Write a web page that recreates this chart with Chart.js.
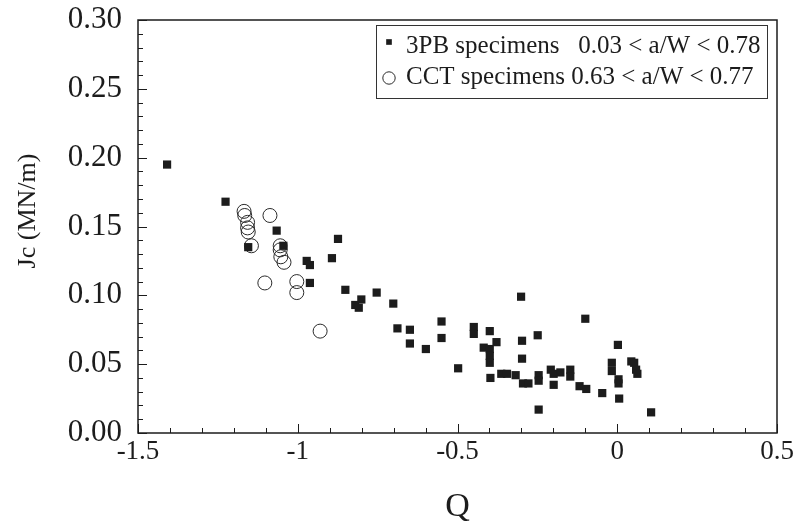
<!DOCTYPE html>
<html lang="en">
  <head>
    <meta charset="UTF-8" />
    <title>Jc vs Q</title>
    <script src="https://cdn.jsdelivr.net/npm/chart.js"></script>
    <style>
      html, body { margin: 0; padding: 0; background: #fff; }
      canvas { display: block; }
    </style>
  </head>
  <body>
    <canvas id="chart" width="806" height="529"></canvas>
    <script>
      // 3PB specimens (filled squares)
      const q3PB = [
        -1.409, -1.226, -1.155, -1.066, -1.045, -0.972, -0.962, -0.962, -0.893, -0.874,
        -0.851, -0.820, -0.809, -0.801, -0.753, -0.701, -0.688, -0.649, -0.649, -0.599,
        -0.550, -0.550, -0.498, -0.449, -0.449, -0.418, -0.399, -0.399, -0.399, -0.399,
        -0.397, -0.378, -0.363, -0.345, -0.318, -0.301, -0.298, -0.298, -0.295, -0.278,
        -0.249, -0.246, -0.246, -0.246, -0.208, -0.199, -0.199, -0.178, -0.147, -0.147,
        -0.118, -0.097, -0.100, -0.047, 0.002, -0.017, -0.017, 0.004, 0.004, 0.006,
        0.044, 0.053, 0.059, 0.063, 0.106
      ];
      const jc3PB = [
        0.195, 0.168, 0.135, 0.147, 0.136, 0.125, 0.122, 0.109, 0.127, 0.141,
        0.104, 0.093, 0.091, 0.097, 0.102, 0.094, 0.076, 0.075, 0.065, 0.061,
        0.081, 0.069, 0.047, 0.077, 0.072, 0.062, 0.074, 0.061, 0.056, 0.051,
        0.040, 0.066, 0.043, 0.043, 0.042, 0.099, 0.067, 0.054, 0.036, 0.036,
        0.071, 0.042, 0.038, 0.017, 0.046, 0.043, 0.035, 0.044, 0.046, 0.041,
        0.034, 0.032, 0.083, 0.029, 0.064, 0.051, 0.045, 0.039, 0.036, 0.025,
        0.052, 0.051, 0.046, 0.043, 0.015
      ];

      // CCT specimens (open circles)
      const qCCT = [
        -1.168, -1.166, -1.157, -1.157, -1.155, -1.145, -1.087, -1.055, -1.055, -1.053,
        -1.043, -1.103, -1.003, -1.003, -0.930
      ];
      const jcCCT = [
        0.161, 0.158, 0.153, 0.149, 0.146, 0.136, 0.158, 0.136, 0.133, 0.128,
        0.124, 0.109, 0.110, 0.102, 0.074
      ];

      const xTicks = [-1.5, -1, -0.5, 0, 0.5];
      const yTicks = [0, 0.05, 0.1, 0.15, 0.2, 0.25, 0.3];

      const legendNames = ["3PB specimens   ", "CCT specimens "];
      const legendRanges = ["0.03 < a/W < 0.78", "0.63 < a/W < 0.77"];
      const yTitle = "Jc (MN/m)";

      const ink = "#1c1c1c";
      const serif = "'Liberation Serif', 'DejaVu Serif', serif";

      function toPoints(xs, ys) {
        return xs.map((x, i) => ({ x: x, y: ys[i] }));
      }

      // frame, inward ticks, y title and the boxed legend
      const framePlugin = {
        id: "frame",
        afterDraw(chart) {
          const ctx = chart.ctx;
          const a = chart.chartArea;
          const xs = chart.scales.x;
          const ys = chart.scales.y;
          ctx.save();
          ctx.strokeStyle = ink;
          ctx.lineWidth = 1.5;
          ctx.strokeRect(a.left, a.top, a.right - a.left, a.bottom - a.top);

          ctx.lineWidth = 1;
          ctx.beginPath();
          for (let i = 0; i <= 20; i++) {
            const px = Math.round(xs.getPixelForValue(-1.5 + i * 0.1)) + 0.5;
            const len = i % 5 === 0 ? 9 : 5;
            ctx.moveTo(px, a.bottom);
            ctx.lineTo(px, a.bottom - len);
          }
          for (let i = 0; i <= 30; i++) {
            const py = Math.round(ys.getPixelForValue(i * 0.01)) + 0.5;
            const len = i % 5 === 0 ? 9 : 5;
            ctx.moveTo(a.left, py);
            ctx.lineTo(a.left + len, py);
          }
          ctx.stroke();

          // y axis title, sits a little above the middle
          ctx.save();
          ctx.translate(28, 211);
          ctx.rotate(-Math.PI / 2);
          ctx.fillStyle = ink;
          ctx.font = "26px " + serif;
          ctx.textAlign = "center";
          ctx.textBaseline = "middle";
          ctx.fillText(yTitle, 0, 0);
          ctx.restore();

          // legend box
          const bx = 376, by = 25, bw = 391, bh = 73;
          ctx.lineWidth = 1;
          ctx.strokeStyle = "#333";
          ctx.strokeRect(bx + 0.5, by + 0.5, bw, bh);

          ctx.font = "25px " + serif;
          ctx.textBaseline = "alphabetic";
          ctx.textAlign = "left";
          const rows = [53, 84];
          const markY = [42, 78];
          chart.data.datasets.forEach((ds, i) => {
            ctx.fillStyle = i === 0 ? ink : "rgba(0,0,0,0)";
            ctx.strokeStyle = i === 0 ? ink : "#2a2a2a";
            ctx.lineWidth = 1;
            Chart.helpers.drawPoint(
              ctx,
              {
                pointStyle: ds.pointStyle,
                radius: i === 0 ? 4 : 6.2,
                borderWidth: i === 0 ? 0 : 1,
                rotation: 0
              },
              389,
              markY[i]
            );
            ctx.fillStyle = ink;
            ctx.fillText(legendNames[i] + legendRanges[i], 406, rows[i]);
          });
          ctx.restore();
        }
      };

      new Chart(document.getElementById("chart"), {
        type: "scatter",
        data: {
          datasets: [
            {
              label: legendNames[0].trim() + " " + legendRanges[0],
              data: toPoints(q3PB, jc3PB),
              pointStyle: "rect",
              pointRadius: 5.8,
              pointBorderWidth: 0,
              backgroundColor: ink,
              borderColor: ink
            },
            {
              label: legendNames[1].trim() + " " + legendRanges[1],
              data: toPoints(qCCT, jcCCT),
              pointStyle: "circle",
              pointRadius: 7,
              pointBorderWidth: 1,
              backgroundColor: "rgba(0,0,0,0)",
              borderColor: "#2a2a2a"
            }
          ]
        },
        options: {
          responsive: false,
          animation: false,
          layout: { padding: { left: 0, right: 29, top: 20, bottom: 0 } },
          plugins: {
            legend: { display: false },
            tooltip: { enabled: false }
          },
          scales: {
            x: {
              type: "linear",
              min: -1.5,
              max: 0.5,
              afterBuildTicks: (s) => { s.ticks = xTicks.map((v) => ({ value: v })); },
              afterFit: (s) => { s.height = 96; s.paddingLeft = 0; s.paddingRight = 0; },
              grid: { display: false, drawTicks: false },
              border: { display: false },
              ticks: {
                padding: 3,
                color: ink,
                font: { family: serif, size: 27 },
                maxRotation: 0,
                callback: (v) => String(v)
              },
              title: {
                display: true,
                text: "Q",
                color: ink,
                font: { family: serif, size: 34 },
                padding: { top: 0, bottom: 2 }
              }
            },
            y: {
              type: "linear",
              min: 0,
              max: 0.3,
              afterBuildTicks: (s) => { s.ticks = yTicks.map((v) => ({ value: v })); },
              afterFit: (s) => { s.width = 138; s.paddingTop = 0; s.paddingBottom = 0; },
              grid: { display: false, drawTicks: false },
              border: { display: false },
              ticks: {
                padding: 16,
                color: ink,
                font: { family: serif, size: 31 },
                callback: (v) => v.toFixed(2)
              }
            }
          }
        },
        plugins: [framePlugin]
      });
    </script>
  </body>
</html>
